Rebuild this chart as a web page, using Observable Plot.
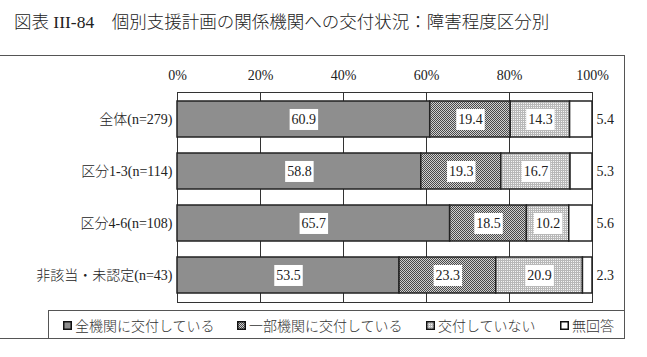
<!DOCTYPE html>
<html><head><meta charset="utf-8">
<script src="https://cdn.jsdelivr.net/npm/d3@7"></script>
<script src="https://cdn.jsdelivr.net/npm/@observablehq/plot@0.6"></script>
<style>
body{margin:0;background:#fff;}
#wrap{position:relative;width:647px;height:357px;overflow:hidden;font-family:"Liberation Serif","Noto Sans CJK JP",serif;color:#222;background:#fff}
#title{position:absolute;left:14px;top:8px;font-size:17.5px;white-space:nowrap;font-weight:300}
#frame{position:absolute;left:-1px;top:55px;width:626px;height:284px;box-sizing:border-box;border:1px solid #555}
#legend{position:absolute;left:48px;top:310px;width:577px;height:29px;box-sizing:border-box;border:1px solid #555}
#chart{position:absolute;left:0;top:0}
.item{position:absolute;top:4px;font-size:14px;white-space:nowrap;display:flex;align-items:center;font-family:"Noto Sans CJK JP",sans-serif;font-weight:300;color:#333}
.item svg{margin-right:3px}
svg text{font-weight:300}
</style></head><body>
<svg width="0" height="0" style="position:absolute">
<defs>
<pattern id="pat2" patternUnits="userSpaceOnUse" width="2" height="2">
<rect width="2" height="2" fill="#d0d0d0"/><rect x="0" y="0" width="1" height="1" fill="#4a4a4a"/><rect x="1" y="1" width="1" height="1" fill="#4a4a4a"/>
</pattern>
<pattern id="pat3" patternUnits="userSpaceOnUse" width="2" height="2">
<rect width="2" height="2" fill="#b8b8b8"/><rect x="1" y="1" width="1" height="1" fill="#f4f4f4"/>
</pattern>
</defs>
</svg>
<div id="wrap">
<div id="title">図表 III-84　個別支援計画の関係機関への交付状況：障害程度区分別</div>
<div id="frame"></div>
<div id="legend"></div>
<div id="chart"></div>
</div>
<script>
const categories = ["全体(n=279)", "区分1-3(n=114)", "区分4-6(n=108)", "非該当・未認定(n=43)"];
const seriesNames = ["全機関に交付している", "一部機関に交付している", "交付していない", "無回答"];
const allAgencies = [60.9, 58.8, 65.7, 53.5];
const someAgencies = [19.4, 19.3, 18.5, 23.3];
const notIssued = [14.3, 16.7, 10.2, 20.9];
const noAnswer = [5.4, 5.3, 5.6, 2.3];
const xTicks = [0, 0.2, 0.4, 0.6, 0.8, 1];

const fills = ["#8e8e8e", "url(#pat2)", "url(#pat3)", "#ffffff"];
const seriesValues = [allAgencies, someAgencies, notIssued, noAnswer];
const data = categories.flatMap((c, i) => seriesValues.map((arr, j) => ({cat: c, series: seriesNames[j], value: arr[i]})));

const stackOpts = {x: "value", y: "cat", z: "series", order: seriesNames, offset: "normalize"};

const chart = Plot.plot({
  width: 647, height: 357,
  marginLeft: 177, marginRight: 55, marginTop: 92, marginBottom: 55,
  style: {fontFamily: '"Liberation Serif","Noto Sans CJK JP",serif', fontSize: "14px", color: "#222", background: "transparent", overflow: "visible"},
  x: {domain: [0, 1]},
  y: {domain: categories, paddingInner: 0.3, paddingOuter: 0.14},
  color: {domain: seriesNames, range: fills},
  marks: [
    Plot.ruleX(xTicks, {stroke: "#333", strokeWidth: 1}),
    Plot.frame({stroke: "#333", strokeWidth: 1}),
    Plot.barX(data, Plot.stackX({...stackOpts, fill: "series", stroke: "#222", strokeWidth: 1.5})),
    Plot.text(data, Plot.stackX({...stackOpts, text: d => d.series === seriesNames[3] ? "" : d.value.toFixed(1), className: "inlab", fill: "#222", fontSize: 14})),
    Plot.text(data, Plot.stackX2({...stackOpts, text: d => d.series === seriesNames[3] ? d.value.toFixed(1) : "", textAnchor: "start", dx: 4, fill: "#222", fontSize: 14})),
    Plot.axisX({anchor: "top", ticks: xTicks, tickFormat: d => Math.round(d * 100) + "%", tickSize: 0, tickPadding: 13, label: null, fontSize: 14}),
    Plot.axisY({tickSize: 0, tickPadding: 5, label: null, fontSize: 14})
  ]
});
document.getElementById("chart").appendChild(chart);

// white boxes behind inner value labels
chart.querySelectorAll("g.inlab text").forEach(t => {
  if (!t.textContent) return;
  const b = t.getBBox();
  const r = document.createElementNS("http://www.w3.org/2000/svg", "rect");
  r.setAttribute("x", b.x - 2);
  r.setAttribute("y", b.y - 3);
  r.setAttribute("width", b.width + 4);
  r.setAttribute("height", b.height + 6);
  r.setAttribute("fill", "#fff");
  if (t.getAttribute("transform")) r.setAttribute("transform", t.getAttribute("transform"));
  t.parentNode.insertBefore(r, t);
});

// legend
const legendX = [14, 188, 377, 511];
const legend = document.getElementById("legend");
seriesNames.forEach((s, i) => {
  const it = document.createElement("div");
  it.className = "item";
  it.style.left = legendX[i] + "px";
  it.innerHTML = `<svg width="9" height="9"><rect x="0.75" y="0.75" width="7.5" height="7.5" fill="${fills[i]}" stroke="#111" stroke-width="1.5"/></svg><span>${s}</span>`;
  legend.appendChild(it);
});
</script>
</body></html>
